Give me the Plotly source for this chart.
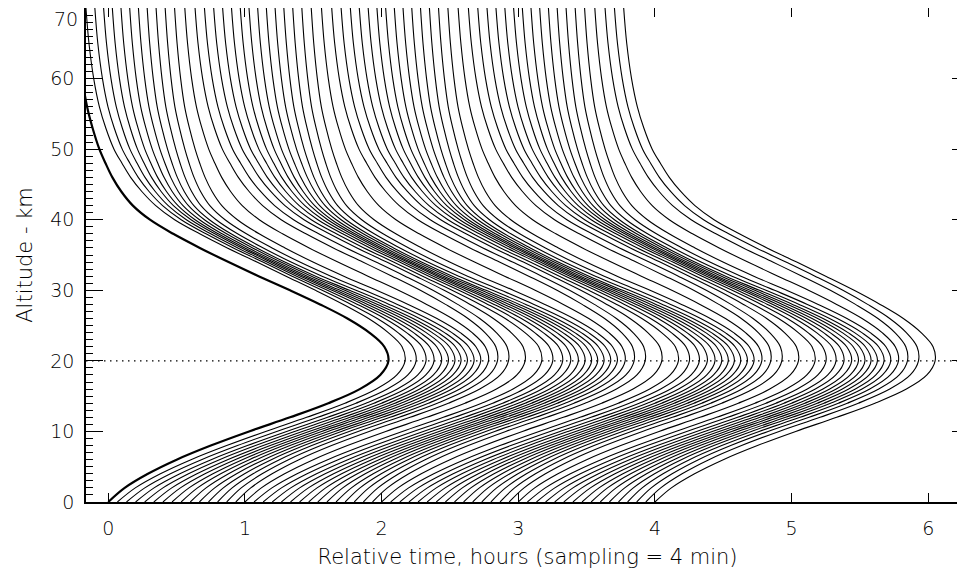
import plotly.graph_objects as go

# ---- data ----
# altitude samples (km) at which the curves were read
altitude_km = [0, 2, 4, 6, 8, 10, 12, 14, 16, 18, 20, 22, 24, 26, 28, 30, 32, 34,
               36, 38, 40, 42, 44, 46, 48, 50, 53, 56, 60, 65, 70]
# relative time (hours) of the first (thick) curve at each altitude
first_curve_h = [0.00, 0.12, 0.29, 0.50, 0.75, 1.03, 1.33, 1.61, 1.84, 1.99, 2.05,
                 2.02, 1.91, 1.75, 1.55, 1.33, 1.10, 0.88, 0.67, 0.475, 0.305, 0.18,
                 0.095, 0.03, -0.02, -0.065, -0.115, -0.155, -0.19, -0.22, -0.24]
# extra delay (hours) of the following curves, one 1-hour cycle of 15 samples:
# as read at the 20 km tips, and as read on the upper flank (30-50 km)
cycle_low_h = [0.000, 0.055, 0.069, 0.075, 0.067, 0.056, 0.039, 0.020, -0.002,
               -0.022, -0.040, -0.058, -0.068, -0.069, -0.055]
cycle_high_h = [0.075, 0.067, 0.056, 0.039, 0.020, -0.002, -0.022, -0.040, -0.058,
                -0.068, -0.069, -0.055, 0.000, 0.055, 0.069]
# how strongly each cycle shows at each altitude
weight_low = [0.0, 0.2, 0.45, 0.7, 0.9, 1.0, 1.0, 1.0, 1.0, 1.0, 1.0, 0.9, 0.7,
              0.5, 0.3, 0.1, 0.0, 0.0, 0.0, 0.0, 0.0, 0.0, 0.0, 0.0, 0.0, 0.0,
              0.0, 0.0, 0.0, 0.0, 0.0]
weight_high = [0.0, 0.0, 0.0, 0.0, 0.0, 0.0, 0.0, 0.0, 0.0, 0.0, 0.0, 0.2, 0.5,
               0.9, 1.3, 1.7, 2.0, 2.1, 2.0, 1.9, 1.7, 1.5, 1.25, 1.0, 0.8, 0.6,
               0.45, 0.35, 0.25, 0.18, 0.15]
# sample start times (minutes), sampling = 4 min
launch_min = [0, 4, 8, 12, 16, 20, 24, 28, 32, 36, 40, 44, 48, 52, 56, 60, 64, 68,
              72, 76, 80, 84, 88, 92, 96, 100, 104, 108, 112, 116, 120, 124, 128,
              132, 136, 140, 144, 148, 152, 156, 160, 164, 168, 172, 176, 180, 184,
              188, 192, 196, 200, 204, 208, 212, 216, 220, 224, 228, 232, 236, 240]
reference_altitude_km = 20
x_ticks = [0, 1, 2, 3, 4, 5, 6]
y_ticks = [0, 10, 20, 30, 40, 50, 60, 70]
y_ticktext = ["0", "10", "20", "30", "40", "50", "60", ""]
top_label = "70"

FONT = "DejaVu Sans"
FW = 200

fig = go.Figure()
for k, m in enumerate(launch_min):
    t = m / 60.0
    if k == 0:
        xs = [t + b for b in first_curve_h]
    else:
        lo = cycle_low_h[k % 15]
        hi = cycle_high_h[k % 15]
        xs = [t + b + wl * lo + wh * hi
              for b, wl, wh in zip(first_curve_h, weight_low, weight_high)]
    fig.add_trace(go.Scatter(
        x=xs, y=altitude_km, mode="lines",
        line=dict(color="black", width=2.2 if k == 0 else 1.1,
                  shape="spline", smoothing=1.0),
        hoverinfo="skip", showlegend=False))

fig.add_shape(type="line", xref="paper", x0=0, x1=1, yref="y",
              y0=reference_altitude_km, y1=reference_altitude_km,
              line=dict(color="black", width=1.2, dash="1.5px,4.5px"))

fig.add_annotation(text=top_label, xref="paper", x=0, yref="y", y=70,
                   xanchor="right", yanchor="top", xshift=-6, yshift=2,
                   showarrow=False,
                   font=dict(family=FONT, size=19, weight=FW, color="black"))

fig.update_layout(
    width=965, height=576,
    margin=dict(l=78, r=4, t=0, b=82),
    paper_bgcolor="white", plot_bgcolor="white",
    font=dict(family=FONT, size=19, color="black", weight=FW),
    xaxis=dict(
        range=[-0.163, 6.298], tickmode="array", tickvals=x_ticks,
        ticks="inside", ticklen=9, tickwidth=1.2, tickcolor="black",
        showline=True, linecolor="black", linewidth=1.5, mirror="ticks",
        showgrid=False, zeroline=False, ticklabelstandoff=8, automargin=False,
        tickfont=dict(family=FONT, size=19, weight=FW),
        title=dict(text="Relative time, hours (sampling = 4 min)",
                   font=dict(family=FONT, size=21, weight=FW), standoff=12)),
    yaxis=dict(
        range=[0, 70], tickmode="array", tickvals=y_ticks, ticktext=y_ticktext,
        ticks="inside", ticklen=17, tickwidth=1.2, tickcolor="black",
        minor=dict(dtick=1, ticks="inside", ticklen=7, tickwidth=1,
                   tickcolor="black", showgrid=False),
        showline=True, linecolor="black", linewidth=1.5, mirror="ticks",
        showgrid=False, zeroline=False, ticklabelstandoff=6, automargin=False,
        tickfont=dict(family=FONT, size=19, weight=FW),
        title=dict(text="Altitude - km", font=dict(family=FONT, size=21, weight=FW),
                   standoff=12)),
)

fig.write_html("out.html")
